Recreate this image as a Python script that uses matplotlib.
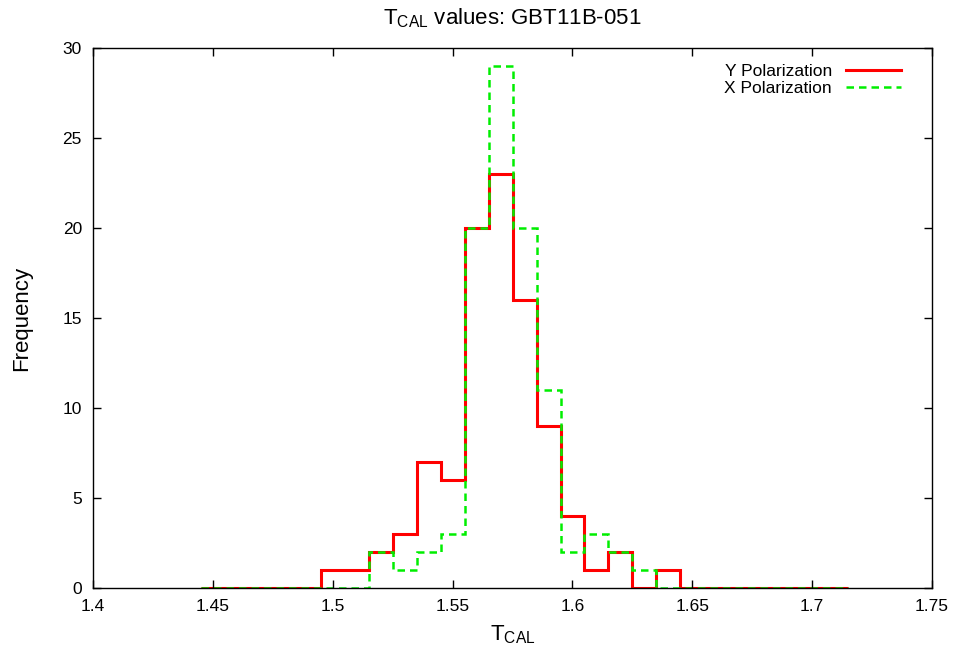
import numpy as np
import matplotlib
matplotlib.use('Agg')
from matplotlib import pyplot as plt

plt.rcParams['font.family'] = ['Liberation Sans', 'DejaVu Sans']
plt.rcParams['mathtext.default'] = 'regular'

# bin edges (width 0.01, centred on 1.45 ... 1.71)
edges = np.round(np.arange(1.445, 1.7151, 0.01), 3)

# counts per bin
y_pol = [0, 0, 0, 0, 0, 1, 1, 2, 3, 7, 6, 20, 23, 16, 9, 4, 1, 2, 0, 1,
         0, 0, 0, 0, 0, 0, 0]
x_pol = [0, 0, 0, 0, 0, 0, 0, 2, 1, 2, 3, 20, 29, 20, 11, 2, 3, 2, 1, 0,
         0, 0, 0, 0, 0, 0, 0]

fig = plt.figure(figsize=(9.56, 6.55), dpi=100)
ax = fig.add_axes([0.0973, 0.1023, 0.8777, 0.8244])

ax.stairs(y_pol, edges, color='#ff0000', linewidth=2.2, label='Y Polarization')
ax.stairs(x_pol, edges, color='#00ee00', linewidth=1.8, linestyle=(0, (3, 2)),
          label='X Polarization')

ax.set_xlim(1.4, 1.75)
ax.set_ylim(0, 30)
ax.set_xticks(np.arange(1.4, 1.7501, 0.05))
ax.set_xticklabels(['1.4', '1.45', '1.5', '1.55', '1.6', '1.65', '1.7', '1.75'])
ax.set_yticks(range(0, 31, 5))
ax.tick_params(direction='in', top=True, right=True, length=6, width=1,
               labelsize=12.5, pad=8)
for s in ax.spines.values():
    s.set_linewidth(1)

ax.set_xlabel(r'T$_{CAL}$', fontsize=16, labelpad=7)
ax.set_ylabel('Frequency', fontsize=16, labelpad=22)
ax.set_title(r'T$_{CAL}$ values: GBT11B-051', fontsize=16, pad=17)

ax.legend(loc='upper right', bbox_to_anchor=(0.982, 1.0), frameon=False,
          markerfirst=False, fontsize=12.5, handlelength=3.2,
          handletextpad=0.8, labelspacing=0.1, borderaxespad=0.5)

plt.savefig('out.png', dpi=100)
